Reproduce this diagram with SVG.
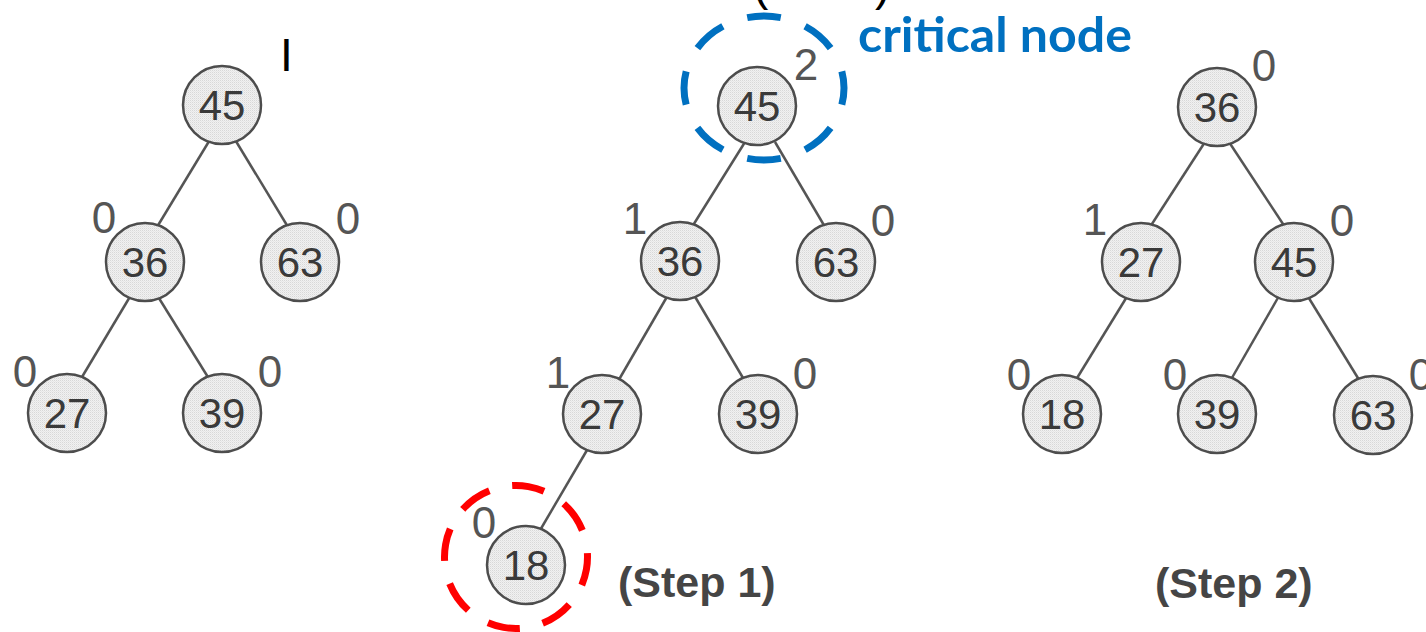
<svg xmlns="http://www.w3.org/2000/svg" width="1426" height="632" viewBox="0 0 1426 632">
  <defs>
    <!-- fine dither used as node fill -->
    <pattern id="grain" width="2" height="2" patternUnits="userSpaceOnUse">
      <rect width="2" height="2" fill="#f1f1f1"/>
      <rect width="1" height="1" fill="#d8d8d8"/>
      <rect x="1" y="1" width="1" height="1" fill="#e6e6e6"/>
    </pattern>
  </defs>
  <style>
    .edge { stroke: #555; stroke-width: 2.5; fill: none; }
    .node circle { fill: url(#grain); stroke: #4d4d4d; stroke-width: 2.5; }
    .key { font-family: "Liberation Sans", Arial, sans-serif; font-size: 42px; fill: #3a3a3a; text-anchor: middle; }
    .bf { font-family: "Liberation Sans", Arial, sans-serif; font-size: 44px; fill: #555; text-anchor: middle; }
    .step { font-family: "Liberation Sans", Arial, sans-serif; font-size: 43px; font-weight: bold; fill: #454545; }
    .mark { font-family: "Liberation Sans", Arial, sans-serif; font-size: 46px; fill: #000; }
    .ring { fill: none; stroke-width: 7; }
  </style>

  <rect width="1426" height="632" fill="#ffffff"/>

  <!-- connectors -->
  <g id="connectors">
    <!-- tree A -->
    <line class="edge" x1="211" y1="138" x2="157" y2="227"/>
    <line class="edge" x1="234" y1="138" x2="288" y2="227"/>
    <line class="edge" x1="131" y1="295" x2="79" y2="382"/>
    <line class="edge" x1="157" y1="295" x2="211" y2="382"/>
    <!-- tree B (step 1) -->
    <line class="edge" x1="745" y1="142" x2="692" y2="227"/>
    <line class="edge" x1="775" y1="142" x2="825" y2="227"/>
    <line class="edge" x1="668" y1="295" x2="617" y2="383"/>
    <line class="edge" x1="694" y1="295" x2="746" y2="383"/>
    <line class="edge" x1="590" y1="445" x2="539" y2="532"/>
    <!-- tree C (step 2) -->
    <line class="edge" x1="1205" y1="142" x2="1150" y2="227"/>
    <line class="edge" x1="1229" y1="142" x2="1285" y2="227"/>
    <line class="edge" x1="1128" y1="295" x2="1074" y2="383"/>
    <line class="edge" x1="1279" y1="296" x2="1229" y2="383"/>
    <line class="edge" x1="1307" y1="295" x2="1361" y2="383"/>
  </g>

  <!-- tree A -->
  <g id="a45" class="node"><circle cx="222" cy="105" r="39"/><text class="key" x="222" y="120">45</text></g>
  <g id="a36" class="node"><circle cx="145" cy="262" r="39"/><text class="key" x="145" y="277">36</text><text class="bf" x="104" y="233">0</text></g>
  <g id="a63" class="node"><circle cx="300" cy="262" r="39"/><text class="key" x="300" y="277">63</text><text class="bf" x="348" y="234">0</text></g>
  <g id="a27" class="node"><circle cx="67" cy="413" r="39"/><text class="key" x="67" y="428">27</text><text class="bf" x="25" y="387">0</text></g>
  <g id="a39" class="node"><circle cx="222" cy="413" r="39"/><text class="key" x="222" y="428">39</text><text class="bf" x="270" y="387">0</text></g>

  <!-- tree B (step 1) -->
  <g id="b45" class="node"><circle cx="757" cy="106" r="39"/><text class="key" x="757" y="121">45</text><text class="bf" x="806" y="80">2</text></g>
  <g id="b36" class="node"><circle cx="680" cy="261" r="39"/><text class="key" x="680" y="276">36</text><text class="bf" x="635" y="234">1</text></g>
  <g id="b63" class="node"><circle cx="836" cy="262" r="39"/><text class="key" x="836" y="277">63</text><text class="bf" x="883" y="236">0</text></g>
  <g id="b27" class="node"><circle cx="602" cy="414" r="39"/><text class="key" x="602" y="429">27</text><text class="bf" x="558" y="388">1</text></g>
  <g id="b39" class="node"><circle cx="758" cy="414" r="39"/><text class="key" x="758" y="429">39</text><text class="bf" x="805" y="389">0</text></g>
  <g id="b18" class="node"><circle cx="526" cy="565" r="39"/><text class="key" x="526" y="580">18</text><text class="bf" x="484" y="538">0</text></g>

  <!-- tree C (step 2) -->
  <g id="c36" class="node"><circle cx="1217" cy="107" r="39"/><text class="key" x="1217" y="122">36</text><text class="bf" x="1264" y="81">0</text></g>
  <g id="c27" class="node"><circle cx="1141" cy="262" r="39"/><text class="key" x="1141" y="277">27</text><text class="bf" x="1095" y="235">1</text></g>
  <g id="c45" class="node"><circle cx="1294" cy="262" r="39"/><text class="key" x="1294" y="277">45</text><text class="bf" x="1342" y="236">0</text></g>
  <g id="c18" class="node"><circle cx="1062" cy="414" r="39"/><text class="key" x="1062" y="429">18</text><text class="bf" x="1019" y="390">0</text></g>
  <g id="c39" class="node"><circle cx="1217" cy="414" r="39"/><text class="key" x="1217" y="429">39</text><text class="bf" x="1175" y="390">0</text></g>
  <g id="c63" class="node"><circle cx="1373" cy="415" r="39"/><text class="key" x="1373" y="430">63</text><text class="bf" x="1421" y="390">0</text></g>

  <!-- highlight rings -->
  <g id="critical-ring">
    <ellipse class="ring" cx="764" cy="88" rx="80" ry="72" stroke="#0070c0" pathLength="480" stroke-dasharray="34 26" stroke-dashoffset="17"/>
  </g>
  <g id="inserted-ring">
    <circle class="ring" cx="516" cy="557" r="71.5" stroke="#ff0000" pathLength="480" stroke-dasharray="35 25" stroke-dashoffset="17.5" transform="rotate(10 516 557)"/>
  </g>

  <!-- annotations -->
  <g id="labels">
    <text class="mark" x="286.5" y="71" text-anchor="middle">I</text>
    <text class="mark" x="753" y="0">(</text>
    <text class="mark" x="875" y="0">)</text>
    <text x="858" y="52" font-family="Lato, 'Open Sans', sans-serif" font-size="47" font-weight="bold" fill="#0070c0" textLength="274" lengthAdjust="spacingAndGlyphs">critical node</text>
    <text class="step" x="618" y="597">(Step 1)</text>
    <text class="step" x="1155" y="598">(Step 2)</text>
  </g>
</svg>
